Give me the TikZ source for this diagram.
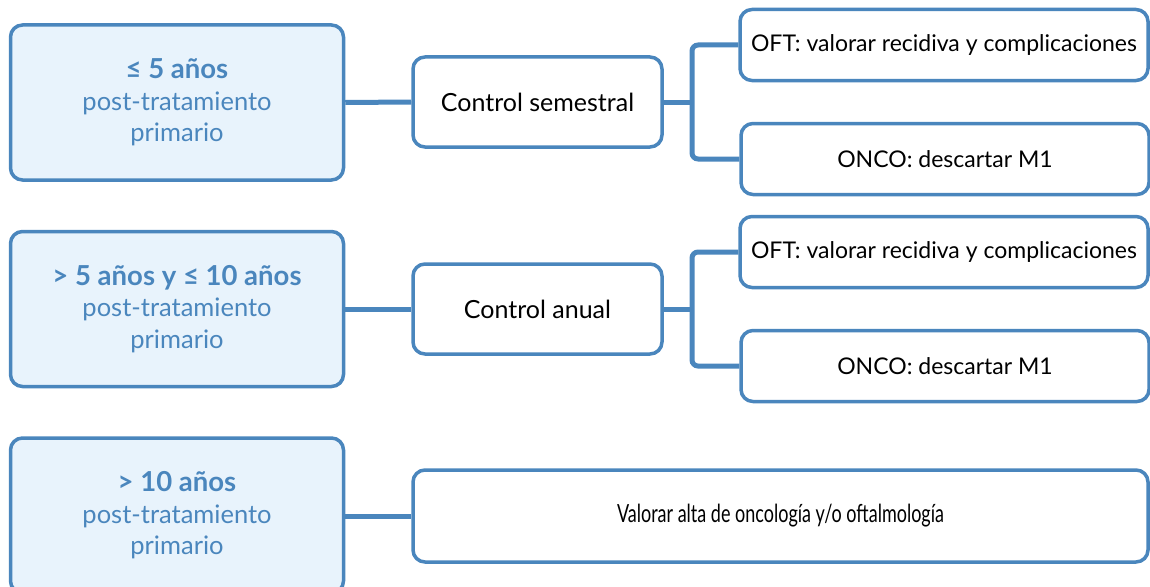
\documentclass[tikz,border=0pt]{standalone}
\usepackage{fontspec}
\setmainfont{Lato}
\definecolor{edge}{HTML}{4A86BD}
\definecolor{paleblue}{HTML}{E8F3FC}
\newcommand{\agehead}[1]{{\fontsize{27.5}{31}\selectfont\bfseries #1}}
\begin{document}
\begin{tikzpicture}[x=1pt,y=-1pt,
  stage/.style={draw=edge,line width=3.5pt,fill=paleblue,rounded corners=12pt,
    minimum width=333pt,minimum height=155pt,align=center,text=edge,
    font=\fontsize{25.5}{31.5}\selectfont,inner sep=0pt},
  ctrl/.style={draw=edge,line width=3.5pt,fill=white,rounded corners=12pt,
    minimum width=249pt,minimum height=90pt,font=\fontsize{25}{28}\selectfont,inner sep=0pt},
  task/.style={draw=edge,line width=3.5pt,fill=white,rounded corners=12pt,
    minimum width=408pt,minimum height=71pt,font=\fontsize{23}{26}\selectfont,inner sep=0pt},
  conn/.style={draw=edge,line width=5pt,rounded corners=6pt}]
\useasboundingbox (0,0) rectangle (1150,586);

% age groups
\node[stage] (g1) at (177,102.5) {\agehead{≤ 5 años}\\post-tratamiento\\primario};
\node[stage] (g2) at (177,309) {\agehead{> 5 años y ≤ 10 años}\\post-tratamiento\\primario};
\node[stage] (g3) at (177,515.5) {\agehead{> 10 años}\\post-tratamiento\\primario};

% follow-up frequency
\node[ctrl] (c1) at (537.5,102) {Control semestral};
\node[ctrl] (c2) at (537.5,309) {Control anual};
\node[draw=edge,line width=3.5pt,fill=white,rounded corners=12pt,
  minimum width=735pt,minimum height=92pt,inner sep=0pt] (c3) at (780.5,516)
  {\fontsize{25}{28}\selectfont\scalebox{0.72}[1]{Valorar alta de oncología y/o oftalmología}};

% specialist tasks
\node[task] (o1) at (944,45) {OFT: valorar recidiva y complicaciones};
\node[task] (n1) at (945,159) {ONCO: descartar M1};
\node[task] (o2) at (944,252) {OFT: valorar recidiva y complicaciones};
\node[task] (n2) at (945,366) {ONCO: descartar M1};

% branch points
\coordinate (b1) at (692,102);
\coordinate (b2) at (692,309);

% connectors
\draw[conn] (g1.east) -- (c1.west);
\draw[conn] (g2.east) -- (c2.west);
\draw[conn] (g3.east |- c3.west) -- (c3.west);
\draw[conn] (c1.east) -- (b1);
\draw[conn] (c2.east) -- (b2);
\draw[conn] (o1.west) -| (b1) |- (n1.west);
\draw[conn] (o2.west) -| (b2) |- (n2.west);
\end{tikzpicture}
\end{document}
